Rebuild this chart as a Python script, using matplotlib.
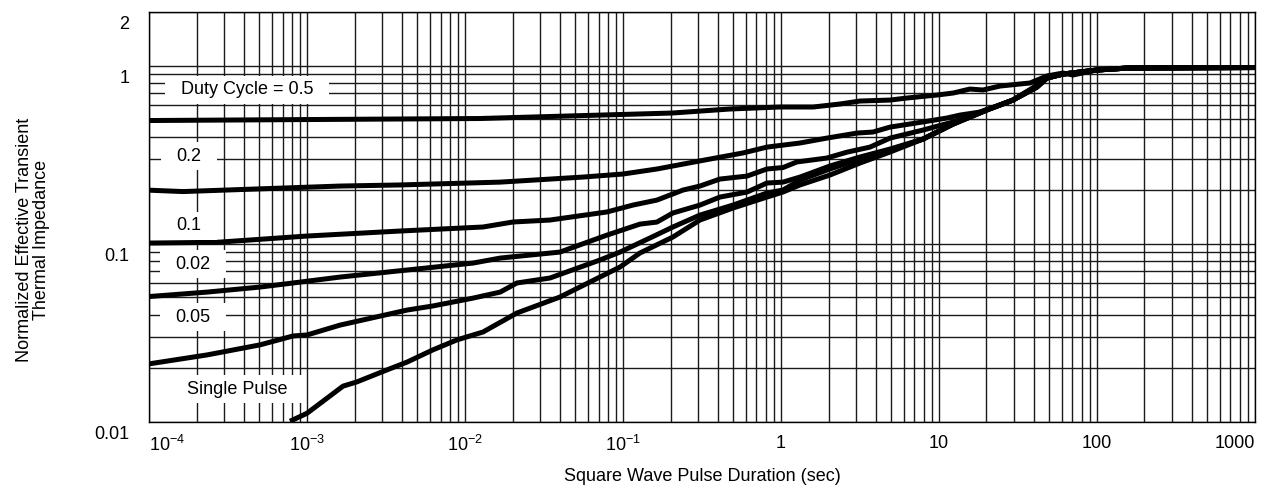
import numpy as np
import matplotlib
matplotlib.use("Agg")
import matplotlib.pyplot as plt
from matplotlib.path import Path
from matplotlib.ticker import NullFormatter
from matplotlib.transforms import ScaledTranslation

plt.rcParams['font.family'] = ['Liberation Sans', 'DejaVu Sans']
plt.rcParams['mathtext.fontset'] = 'custom'
plt.rcParams['mathtext.rm'] = 'Liberation Sans'
plt.rcParams['mathtext.it'] = 'Liberation Sans:italic'

# duty cycle 0.5
x_d50 = [1e-4, 9e-4, 0.0124, 0.204, 0.475, 0.987, 1.6, 2.36, 3.16, 4.9, 6.27, 9.7, 12.3,
         15.7, 19, 24.3, 32.6, 37.7, 48.3, 61, 70.5, 86.5, 100, 155, 207, 1000]
y_d50 = [0.492, 0.498, 0.505, 0.542, 0.571, 0.586, 0.586, 0.609, 0.633, 0.641, 0.658, 0.684, 0.702,
         0.739, 0.730, 0.768, 0.789, 0.799, 0.875, 0.909, 0.886, 0.921, 0.945, 0.969, 0.976, 0.976]
# duty cycle 0.2
x_d20 = [1e-4, 1.64e-4, 1.62e-3, 3.88e-3, 1.67e-2, 5.59e-2, 0.1, 0.164, 0.307, 0.574, 0.815, 1.32,
         1.95, 3.03, 3.82, 4.9, 7.92, 11.2, 13.6, 18.2, 24.3, 29.4, 39.3, 48.3, 61, 100, 155, 1000]
y_d20 = [0.200, 0.1965, 0.211, 0.214, 0.222, 0.237, 0.2465, 0.263, 0.292, 0.3235, 0.349, 0.368,
         0.392, 0.4185, 0.424, 0.452, 0.483, 0.508, 0.528, 0.549, 0.601, 0.641, 0.749, 0.852, 0.897,
         0.945, 0.969, 0.976]
# duty cycle 0.1
x_d10 = [1e-4, 2.69e-4, 1e-3, 3.88e-3, 1.30e-2, 2.01e-2, 3.45e-2, 7.93e-2, 0.1156, 0.164, 0.240,
         0.307, 0.411, 0.61, 0.815, 1.03, 1.26, 1.95, 2.62, 3.66, 4.9, 7.92, 12.3, 18.2, 24.3, 29.4,
         39.3, 48.3, 61, 100, 155, 1000]
y_d10 = [0.101, 0.102, 0.1106, 0.118, 0.1243, 0.1326, 0.136, 0.151, 0.165, 0.176, 0.2004, 0.211,
         0.231, 0.240, 0.263, 0.268, 0.288, 0.303, 0.327, 0.349, 0.392, 0.435, 0.483, 0.549, 0.601,
         0.641, 0.749, 0.852, 0.897, 0.945, 0.969, 0.976]
# duty cycle 0.05
x_d05 = [1e-4, 2.33e-4, 5.04e-4, 8.15e-4, 1.62e-3, 4.30e-3, 1.125e-2, 1.67e-2, 3.99e-2, 7.93e-2,
         0.128, 0.164, 0.207, 0.307, 0.411, 0.61, 0.815, 1.03, 1.32, 2.04, 3.16, 4.9, 7.92, 12.3,
         20.1, 29.4, 41.7, 48.3, 61, 100, 155, 1000]
y_d05 = [0.0506, 0.0536, 0.0572, 0.0603, 0.0651, 0.0713, 0.078, 0.0832, 0.0899, 0.112, 0.129,
         0.1325, 0.149, 0.165, 0.183, 0.1953, 0.2194, 0.222, 0.237, 0.2733, 0.307, 0.3404, 0.387,
         0.470, 0.5636, 0.641, 0.758, 0.852, 0.897, 0.945, 0.969, 0.976]
# duty cycle 0.02
x_d02 = [1e-4, 2.33e-4, 5.04e-4, 8.15e-4, 1e-3, 1.62e-3, 4.30e-3, 6.26e-3, 1.125e-2, 1.67e-2,
         2.13e-2, 3.45e-2, 7.14e-2, 9.58e-2, 0.148, 0.207, 0.307, 0.497, 0.815, 1.03, 1.32, 2.04,
         3.16, 4.9, 7.92, 12.3, 20.1, 29.4, 41.7, 48.3, 61, 100, 155, 1000]
y_d02 = [0.0212, 0.0238, 0.0271, 0.0304, 0.0308, 0.035, 0.0425, 0.0448, 0.0496, 0.0536, 0.0603,
         0.0643, 0.0811, 0.0899, 0.1078, 0.1243, 0.145, 0.165, 0.1928, 0.2004, 0.228, 0.263, 0.299,
         0.336, 0.387, 0.470, 0.5636, 0.641, 0.758, 0.852, 0.897, 0.945, 0.969, 0.976]
# single pulse
x_sp = [7.8e-4, 1e-3, 1.69e-3, 2.07e-3, 3.2e-3, 4.3e-3, 6.26e-3, 8.89e-3, 1.3e-2, 2.13e-2, 3.99e-2,
        7.14e-2, 9.58e-2, 0.128, 0.207, 0.307, 0.497, 0.815, 1.03, 1.32, 2.04, 3.16, 4.9, 7.92,
        12.3, 20.1, 29.4, 41.7, 48.3, 61, 100, 155, 1000]
y_sp = [0.0101, 0.0112, 0.0159, 0.0168, 0.0196, 0.0217, 0.0254, 0.0289, 0.032, 0.0409, 0.0503,
        0.0651, 0.0741, 0.0888, 0.1092, 0.136, 0.1588, 0.183, 0.1953, 0.214, 0.2432, 0.284, 0.3274,
        0.387, 0.470, 0.5636, 0.641, 0.758, 0.852, 0.897, 0.945, 0.969, 0.976]

curve_labels = ["Duty Cycle = 0.5", "0.2", "0.1", "0.02", "0.05", "Single Pulse"]
label_x = [4.17e-4, 1.79e-4, 1.79e-4, 1.90e-4, 1.90e-4, 3.6e-4]
label_y = [0.730, 0.311, 0.126, 0.0770, 0.0388, 0.01532]

xtick_vals = [1e-4, 1e-3, 1e-2, 1e-1, 1, 10, 100, 1000]
xtick_labels = [r"$\mathregular{10^{-4}}$", r"$\mathregular{10^{-3}}$", r"$\mathregular{10^{-2}}$",
                r"$\mathregular{10^{-1}}$", "1", "10", "100", "1000"]
ytick_vals = [0.01, 0.1, 1, 2]
ytick_labels = ["0.01", "0.1", "1", "2"]


def wide_box(x0, y0, width, height, mutation_size):
    # white patch behind the curve labels, wider than tall
    padx = mutation_size * 0.85
    pady = mutation_size * 0.3
    x0, y0 = x0 - padx, y0 - pady
    x1, y1 = x0 + width + 2 * padx, y0 + height + 2 * pady
    return Path([(x0, y0), (x1, y0), (x1, y1), (x0, y1), (x0, y0)], closed=True)


fig = plt.figure(figsize=(12.74, 4.88), dpi=100)
ax = fig.add_axes([0.117, 0.1352, 0.868, 0.8402])

for xs, ys in [(x_d50, y_d50), (x_d20, y_d20), (x_d10, y_d10),
               (x_d05, y_d05), (x_d02, y_d02), (x_sp, y_sp)]:
    ax.plot(xs, ys, color='black', lw=3.6, solid_capstyle='butt', solid_joinstyle='round')

ax.set_xscale('log')
ax.set_yscale('log')
ax.set_xlim(1e-4, 1000)
ax.set_ylim(0.01, 2)

ax.set_xticks(xtick_vals)
ax.set_xticks([m * 10.0 ** e for e in range(-4, 3) for m in range(2, 10)], minor=True)
ax.set_yticks(ytick_vals)
ax.set_yticks([m * 10.0 ** e for e in range(-2, 0) for m in range(2, 10)], minor=True)
ax.xaxis.set_minor_formatter(NullFormatter())
ax.yaxis.set_minor_formatter(NullFormatter())
ax.set_xticklabels(xtick_labels, fontsize=13)
ax.set_yticklabels(ytick_labels, fontsize=13, va='top')
xl = ax.get_xticklabels()
xl[0].set_ha('left')
xl[-1].set_ha('right')
ax.tick_params(which='both', length=0)
ax.tick_params(axis='y', pad=14)
ax.tick_params(axis='x', pad=9)
# y labels in the original sit a little below their grid lines
shift = ScaledTranslation(0, -3 / 72, fig.dpi_scale_trans)
for t in ax.yaxis.get_major_ticks():
    t.label1.set_transform(t.label1.get_transform() + shift)

ax.grid(True, which='both', color='0.1', lw=1.0)
for s in ax.spines.values():
    s.set_color('black')
    s.set_linewidth(1.0)

for txt, tx, ty in zip(curve_labels, label_x, label_y):
    ax.text(tx, ty, txt, fontsize=13, ha='center', va='center', zorder=5,
            bbox=dict(boxstyle=wide_box, facecolor='white', edgecolor='none'))

ax.set_xlabel("Square Wave Pulse Duration (sec)", fontsize=13)
ax.xaxis.set_label_coords(0.5, -0.113)
ax.set_ylabel("Normalized Effective Transient\nThermal Impedance", fontsize=13, linespacing=1.0)
ax.yaxis.set_label_coords(-0.09, 0.444)

fig.savefig("out.png", dpi=100)
